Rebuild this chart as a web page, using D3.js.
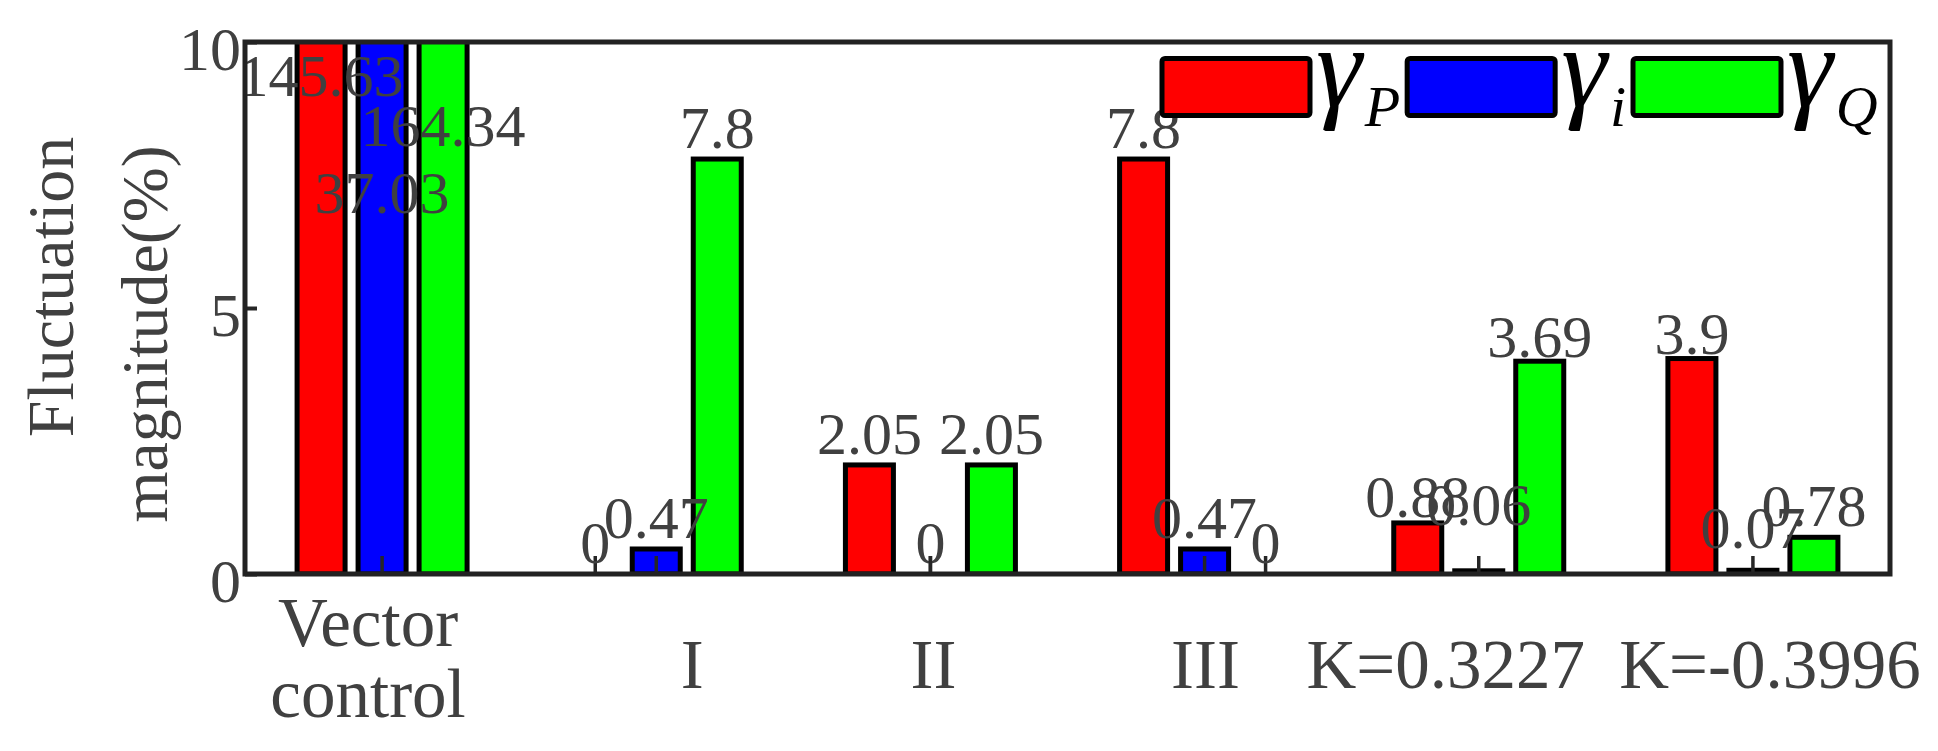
<!DOCTYPE html>
<html lang="en">
<head>
    <meta charset="UTF-8">
    <title>Fluctuation magnitude</title>
    <style>
        body {
            margin: 0;
            padding: 0;
            background-color: #fff;
        }

        #chart text {
            font-family: "Liberation Serif", "Times New Roman", serif;
            fill: #404040;
        }
    </style>
</head>
<body>

<div id="chart"></div>

<script src="https://d3js.org/d3.v7.min.js"></script>

<script>
    // categories (x axis), "\n" splits a label in two lines
    const categories = ["Vector\ncontrol", "I", "II", "III", "K=0.3227", "K=-0.3996"];
    const seriesNames = ["P", "i", "Q"];
    const seriesColors = ["#ff0000", "#0000ff", "#00ff00"];

    // bar heights per series as drawn (percent)
    const gammaP = [145.63, 0, 2.05, 7.8, 0.96, 4.05];
    const gammaI = [37.03, 0.47, 0, 0.47, 0.06, 0.07];
    const gammaQ = [164.34, 7.8, 2.05, 0, 4.0, 0.69];

    // value texts written over the bars
    const textP = ["145.63", "0", "2.05", "7.8", "0.88", "3.9"];
    const textI = ["37.03", "0.47", "0", "0.47", "0.06", "0.07"];
    const textQ = ["164.34", "7.8", "2.05", "0", "3.69", "0.78"];

    // where the value text sits (data units) when it is not on top of the bar
    const labelP = [8.78, null, null, null, 0.86, 3.92];
    const labelI = [6.58, null, null, null, 0.71, 0.28];
    const labelQ = [7.84, null, null, null, 3.88, null];

    const yTicks = [0, 5, 10];
    const yLabel = ["Fluctuation", "magnitude(%)"];

    const svgWidth = 1938;
    const svgHeight = 751;
    const margin = { top: 42, right: 48, bottom: 177, left: 245 };
    const width = svgWidth - margin.left - margin.right;
    const height = svgHeight - margin.top - margin.bottom;

    // small horizontal nudges of the category labels, as in the figure
    const catShift = [-14, 36, 3, 1, -33, 17];

    const series = [gammaP, gammaI, gammaQ];
    const texts = [textP, textI, textQ];
    const labelAt = [labelP, labelI, labelQ];

    const svg = d3.select("#chart")
        .append("svg")
        .attr("width", svgWidth)
        .attr("height", svgHeight);

    const g = svg.append("g")
        .attr("transform", "translate(" + margin.left + "," + margin.top + ")");

    const x0 = d3.scaleBand()
        .domain(categories)
        .range([0, width]);

    const x1 = d3.scaleBand()
        .domain(d3.range(series.length))
        .range([-91.5, 91.5]);

    const y = d3.scaleLinear()
        .domain([0, 10])
        .range([height, 0]);

    g.append("clipPath")
        .attr("id", "plotClip")
        .append("rect")
        .attr("width", width)
        .attr("height", height);

    // flatten to one record per bar
    const bars = [];
    categories.forEach((c, ci) => {
        series.forEach((s, si) => {
            bars.push({ cat: c, s: si, v: s[ci], t: texts[si][ci], lab: labelAt[si][ci] });
        });
    });

    const barW = x1.bandwidth() - 13;
    const cx = d => x0(d.cat) + x0.bandwidth() / 2 + x1(d.s) + x1.bandwidth() / 2;

    g.append("g")
        .attr("clip-path", "url(#plotClip)")
        .selectAll("rect")
        .data(bars.filter(d => d.v > 0))
        .join("rect")
        .attr("x", d => cx(d) - barW / 2)
        .attr("y", d => y(d.v))
        .attr("width", barW)
        .attr("height", d => height - y(d.v))
        .attr("fill", d => seriesColors[d.s])
        .attr("stroke", "#000")
        .attr("stroke-width", 5);

    // zero bars show up as a short stem
    g.append("g")
        .selectAll("line")
        .data(bars.filter(d => d.v === 0))
        .join("line")
        .attr("x1", cx)
        .attr("x2", cx)
        .attr("y1", height)
        .attr("y2", height - 18)
        .attr("stroke", "#262626")
        .attr("stroke-width", 3.5);

    // value texts
    g.append("g")
        .selectAll("text")
        .data(bars)
        .join("text")
        .attr("x", cx)
        .attr("y", d => (d.lab !== null ? y(d.lab) : y(Math.min(d.v, 10))) - 11)
        .attr("text-anchor", "middle")
        .attr("font-size", 60)
        .text(d => d.t);

    // axes
    const xAxis = d3.axisBottom(x0)
        .tickSizeInner(-18)
        .tickSizeOuter(0)
        .tickFormat("");

    const xg = g.append("g")
        .attr("transform", "translate(0," + height + ")")
        .call(xAxis);
    xg.select(".domain").remove();
    xg.selectAll(".tick line")
        .attr("stroke", "#262626")
        .attr("stroke-width", 3.5);

    const yAxis = d3.axisLeft(y)
        .tickValues(yTicks)
        .tickSizeInner(-12)
        .tickSizeOuter(0)
        .tickPadding(4);

    const yg = g.append("g").call(yAxis);
    yg.select(".domain").remove();
    yg.selectAll(".tick line")
        .attr("stroke", "#262626")
        .attr("stroke-width", 4);
    yg.selectAll(".tick text")
        .attr("font-size", 62)
        .attr("dy", "0.45em");

    // box
    g.append("rect")
        .attr("width", width)
        .attr("height", height)
        .attr("fill", "none")
        .attr("stroke", "#222")
        .attr("stroke-width", 5);

    // category labels
    const catX = (d, i) => x0(d) + x0.bandwidth() / 2 + catShift[i];
    const catLabels = g.append("g")
        .selectAll("text")
        .data(categories)
        .join("text")
        .attr("y", d => height + (d.includes("\n") ? 72 : 114))
        .attr("text-anchor", "middle")
        .attr("font-size", 69);
    catLabels.each(function (d, i) {
        const lines = d.split("\n");
        d3.select(this).selectAll("tspan")
            .data(lines)
            .join("tspan")
            .attr("x", catX(d, i))
            .attr("dy", (l, k) => k === 0 ? 0 : 71)
            .text(l => l);
    });

    // y label, two lines rotated
    const yLabelCenter = [287, 334];
    svg.append("g")
        .selectAll("text")
        .data(yLabel)
        .join("text")
        .attr("transform", (d, i) => "translate(" + (73 + i * 94) + "," + yLabelCenter[i] + ") rotate(-90)")
        .attr("text-anchor", "middle")
        .attr("font-size", 66)
        .text(d => d);

    // legend
    const legend = svg.append("g");
    let lx = 1162;
    seriesNames.forEach((name, i) => {
        legend.append("rect")
            .attr("x", lx)
            .attr("y", 58.5)
            .attr("width", 148)
            .attr("height", 57)
            .attr("rx", 3)
            .attr("fill", seriesColors[i])
            .attr("stroke", "#000")
            .attr("stroke-width", 5);
        const t = legend.append("text")
            .attr("x", lx + 154)
            .attr("y", 106)
            .style("fill", "#000")
            .attr("font-style", "italic");
        t.append("tspan")
            .attr("font-size", 116)
            .text("\u03b3");
        t.append("tspan")
            .attr("font-size", 58)
            .attr("dx", 3)
            .attr("dy", 20)
            .text(name);
        lx = lx + 154 + t.node().getComputedTextLength() + 10;
    });
</script>

</body>
</html>
